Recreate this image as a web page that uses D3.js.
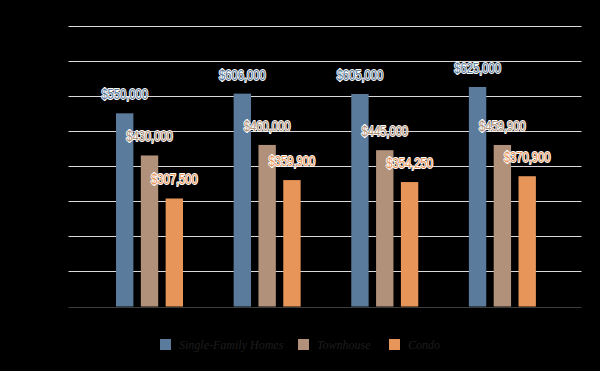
<!DOCTYPE html>
<html>
<head>
<meta charset="utf-8">
<script src="https://cdn.jsdelivr.net/npm/d3@7"></script>
<style>
  html, body { margin: 0; padding: 0; background: #000; }
  svg { display: block; }
</style>
</head>
<body>
<div id="chart"></div>
<script>
// groups on the x axis (their labels are not readable in the picture)
const categories = ["A", "B", "C", "D"];
const seriesNames = ["Single-Family Homes", "Townhouse", "Condo"];
const singleFamily = [550000, 606000, 605000, 625000];
const townhouse = [430000, 460000, 445000, 459900];
const condo = [307500, 359900, 354250, 370900];
const yTicks = [0, 100000, 200000, 300000, 400000, 500000, 600000, 700000, 800000];

const colors = ["#5a7b9c", "#b1917a", "#e8955a"];
const series = [singleFamily, townhouse, condo];

const width = 600;
const height = 371;

const svg = d3.select("#chart")
    .append("svg")
    .attr("width", width)
    .attr("height", height);

svg.append("rect")
    .attr("width", width)
    .attr("height", height)
    .attr("fill", "#000");

const yScale = d3.scaleLinear()
    .domain([0, 800000])
    .range([306.5, 25.5]);

const xScale = d3.scaleBand()
    .domain(categories)
    .range([90.7, 561.2]);

const inner = d3.scaleBand()
    .domain(d3.range(series.length))
    .range([xScale.bandwidth() / 2 - 33.5, xScale.bandwidth() / 2 + 33.5])
    .paddingInner(0.3);

// grid lines
svg.append("g")
    .selectAll("line")
    .data(yTicks)
    .enter().append("line")
    .attr("x1", 68.5)
    .attr("x2", 581.5)
    .attr("y1", d => Math.round(yScale(d)) + 0.5)
    .attr("y2", d => Math.round(yScale(d)) + 0.5)
    .attr("stroke", d => d === 0 ? "#3c3c3c" : "#d9d9d9")
    .attr("stroke-width", 1);

// y labels (black, as in the original)
svg.append("g")
    .selectAll("text")
    .data(yTicks)
    .enter().append("text")
    .attr("x", 65)
    .attr("y", d => yScale(d) + 3)
    .attr("text-anchor", "end")
    .attr("font-family", "Liberation Sans, sans-serif")
    .attr("font-size", "9px")
    .attr("fill", "#000")
    .text(d => d3.format("$,")(d));

const fmt = d3.format("$,");

series.forEach(function (values, si) {
    const g = svg.append("g");

    g.selectAll("rect")
        .data(values)
        .enter().append("rect")
        .attr("x", (d, i) => xScale(categories[i]) + inner(si))
        .attr("y", d => yScale(d))
        .attr("width", inner.bandwidth())
        .attr("height", d => yScale(0) - yScale(d))
        .attr("fill", colors[si]);

    // narrow labels with a white halo
    g.selectAll("text")
        .data(values)
        .enter().append("text")
        .attr("transform", (d, i) => "translate(" + (xScale(categories[i]) + inner(si) + inner.bandwidth() / 2) + "," + (yScale(d) - 14) + ") scale(0.8,1)")
        .attr("text-anchor", "middle")
        .attr("font-family", "Liberation Sans, Arial, sans-serif")
        .attr("font-size", "14px")
        .attr("fill", colors[si])
        .attr("stroke", "#fff")
        .attr("stroke-width", 2)
        .attr("stroke-linejoin", "round")
        .attr("paint-order", "stroke")
        .text(d => fmt(d));
});

// legend
const legendX = [160, 298, 389];
const legend = svg.append("g");
seriesNames.forEach(function (name, i) {
    legend.append("rect")
        .attr("x", legendX[i])
        .attr("y", 339)
        .attr("width", 11)
        .attr("height", 11)
        .attr("fill", colors[i]);
    legend.append("text")
        .attr("x", legendX[i] + 19)
        .attr("y", 349)
        .attr("font-family", "Liberation Serif, DejaVu Serif, serif")
        .attr("font-style", "italic")
        .attr("font-size", "12px")
        .attr("fill", "#1e1e1e")
        .text(name);
});
</script>
</body>
</html>
